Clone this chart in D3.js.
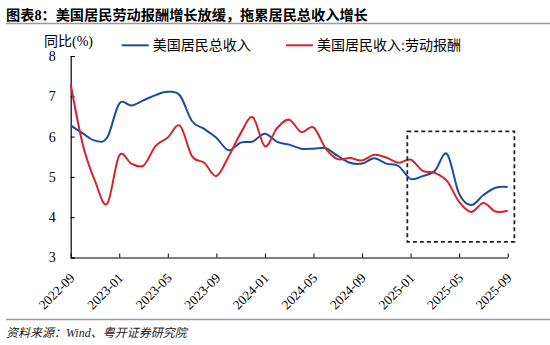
<!DOCTYPE html>
<html><head><meta charset="utf-8">
<script src="https://cdn.jsdelivr.net/npm/d3@7"></script>
<style>
html,body{margin:0;padding:0;background:#fff;}
svg{display:block;}
</style></head>
<body>
<svg id="c" width="550" height="345"></svg>
<script>
const months = ["2022-09","2022-10","2022-11","2022-12","2023-01","2023-02","2023-03","2023-04","2023-05","2023-06","2023-07","2023-08","2023-09","2023-10","2023-11","2023-12","2024-01","2024-02","2024-03","2024-04","2024-05","2024-06","2024-07","2024-08","2024-09","2024-10","2024-11","2024-12","2025-01","2025-02","2025-03","2025-04","2025-05","2025-06","2025-07","2025-08","2025-09"];
const totalIncome = [6.28,6.08,5.90,5.97,6.82,6.77,6.90,7.03,7.11,7.02,6.38,6.19,5.97,5.66,5.85,5.88,6.07,5.87,5.80,5.70,5.70,5.71,5.52,5.35,5.33,5.46,5.33,5.27,4.95,5.02,5.15,5.57,4.58,4.30,4.55,4.73,4.75];
const laborComp = [7.30,5.80,4.90,4.33,5.53,5.33,5.28,5.77,5.98,6.27,5.51,5.35,5.02,5.50,6.08,6.48,5.76,6.21,6.42,6.11,6.23,5.71,5.44,5.47,5.41,5.55,5.48,5.35,5.43,5.15,5.10,4.90,4.38,4.13,4.35,4.14,4.16];
const xTickLabels = ["2022-09","2023-01","2023-05","2023-09","2024-01","2024-05","2024-09","2025-01","2025-05","2025-09"];
const yTicks = [3,4,5,6,7,8];
const seriesNames = ["美国居民总收入","美国居民收入:劳动报酬"];
const seriesColors = ["#1a4d9c","#d7232c"];
const titleText = "图表8：美国居民劳动报酬增长放缓，拖累居民总收入增长";
const yAxisTitle = "同比(%)";
const sourceText = "资料来源：Wind、粤开证券研究院";
// highlight box (month index range, value range)
const boxX = [27.73, 36.55];
const boxY = [3.39, 6.13];

const svg = d3.select("#c");
const serif = "'Liberation Serif','Times New Roman','Noto Sans CJK SC',serif";

svg.append("rect").attr("width",550).attr("height",345).attr("fill","#fff");

// title
svg.append("text").attr("x",6).attr("y",20)
  .attr("font-family",serif).attr("font-weight","bold").attr("font-size",14.2)
  .attr("fill","#000").text(titleText);
svg.append("line").attr("x1",6).attr("x2",550).attr("y1",23.5).attr("y2",23.5)
  .attr("stroke","#9a9a9a").attr("stroke-width",1.5);

// scales
const x = d3.scalePoint().domain(months).range([70.7,507.7]);
const xi = d3.scaleLinear().domain([0,months.length-1]).range([70.7,507.7]);
const y = d3.scaleLinear().domain([3,8]).range([257.5,56]);

// axes
const gy = svg.append("g").attr("transform","translate(70.7,0)")
  .call(d3.axisLeft(y).tickValues(yTicks).tickSize(-4).tickPadding(15).tickFormat(d3.format("d")));
gy.select(".domain").attr("stroke","#000").attr("stroke-width",1.2);
gy.selectAll(".tick line").attr("stroke","#000");
gy.selectAll("text").attr("font-family",serif).attr("font-size",14).attr("fill","#000");

const gx = svg.append("g").attr("transform","translate(0,257.5)")
  .call(d3.axisBottom(x).tickValues(xTickLabels).tickSize(-4).tickSizeOuter(0).tickFormat(d=>""));
gx.select(".domain").attr("stroke","#000").attr("stroke-width",1.2);
gx.selectAll(".tick line").attr("stroke","#000");
gx.selectAll(".tick").append("text")
  .attr("transform","translate(1,18) rotate(-45)")
  .attr("text-anchor","end").attr("dy","0.35em")
  .attr("font-family",serif).attr("font-size",13.3).attr("fill","#000")
  .text(d=>d);

// lines
const line = d3.line().x((d,i)=>x(months[i])).y(d=>y(d)).curve(d3.curveCardinal);
[totalIncome, laborComp].forEach((s,k)=>{
  svg.append("path").datum(s).attr("d",line).attr("fill","none")
    .attr("stroke",seriesColors[k]).attr("stroke-width",2);
});

// dashed box
svg.append("rect")
  .attr("x",xi(boxX[0])).attr("y",y(boxY[1]))
  .attr("width",xi(boxX[1])-xi(boxX[0])).attr("height",y(boxY[0])-y(boxY[1]))
  .attr("fill","none").attr("stroke","#222").attr("stroke-width",1.8).attr("stroke-dasharray","4,3");

// y axis title
svg.append("text").attr("x",44).attr("y",46).attr("font-family",serif)
  .attr("font-size",14).attr("fill","#000").text(yAxisTitle);

// legend
const legX = [121.7, 286];
seriesNames.forEach((n,k)=>{
  svg.append("line").attr("x1",legX[k]).attr("x2",legX[k]+27).attr("y1",45.3).attr("y2",45.3)
    .attr("stroke",seriesColors[k]).attr("stroke-width",2);
  svg.append("text").attr("x",legX[k]+31).attr("y",50.3).attr("font-family",serif)
    .attr("font-size",14).attr("fill","#000").text(n);
});

// bottom line and source
svg.append("line").attr("x1",6).attr("x2",550).attr("y1",319.5).attr("y2",319.5)
  .attr("stroke","#9a9a9a").attr("stroke-width",1.5);
svg.append("text").attr("x",6).attr("y",337).attr("font-family",serif)
  .attr("font-style","italic").attr("font-size",12).attr("fill","#222").text(sourceText);
</script>
</body></html>
